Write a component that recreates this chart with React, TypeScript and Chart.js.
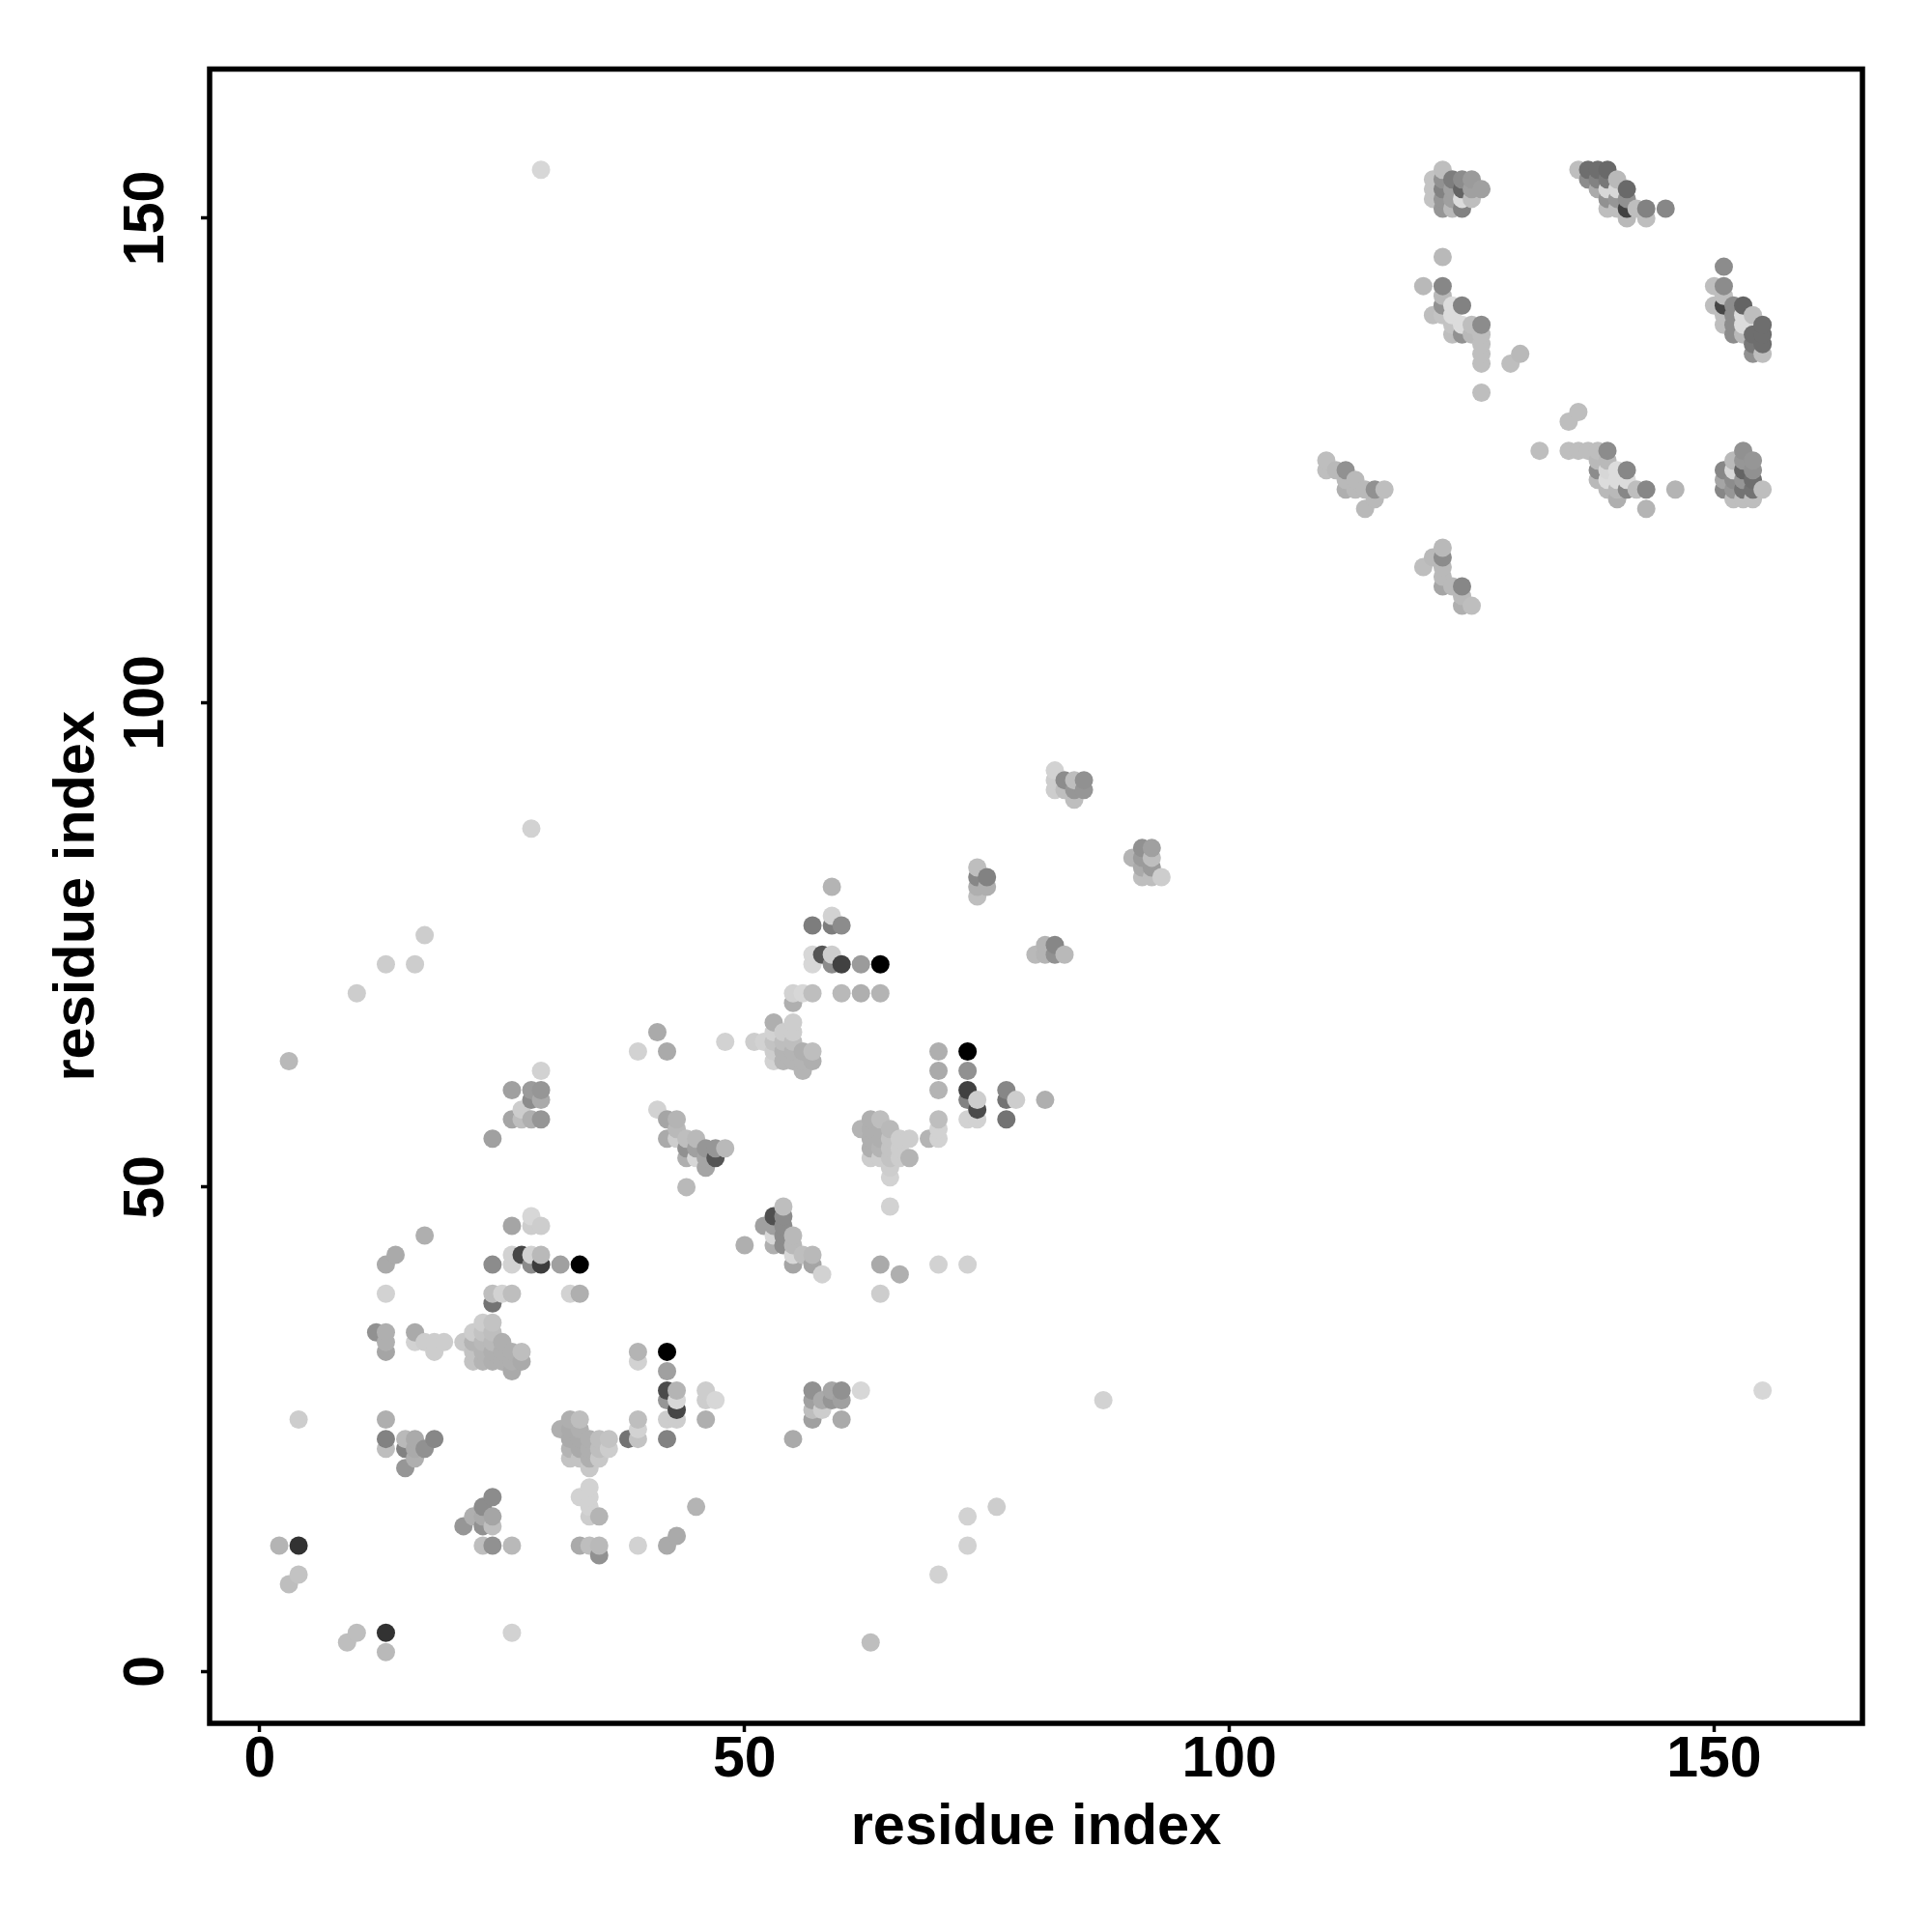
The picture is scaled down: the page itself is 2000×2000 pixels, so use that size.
import React, { useEffect, useRef } from "react";
import { Chart, registerables } from "chart.js";

Chart.register(...registerables);

type P = [number, number, number]; // residue i, residue j, grey level

const clusterA: P[] = [[121,154,195],[121,153,195],[121,152,195],[122,155,190],[122,154,145],[122,153,130],[122,152,150],[122,151,150],[123,154,125],[123,153,160],[123,152,160],[123,151,185],[124,154,140],[124,153,100],[124,152,220],[124,151,130],[125,154,155],[125,153,160],[125,152,190],[126,153,160]];
const clusterB: P[] = [[136,155,190],[137,155,110],[138,155,110],[139,155,105],[137,154,140],[138,154,130],[139,154,120],[138,153,170],[139,153,215],[140,153,215],[140,154,185],[141,153,105],[139,152,145],[140,152,150],[141,152,145],[139,151,190],[140,151,190],[141,151,65],[141,150,185],[142,151,190],[143,151,130],[143,150,190],[145,151,135]];
const clusterC: P[] = [[122,146,185],[120,143,185],[122,143,135],[122,142,185],[122,141,145],[121,140,190],[122,140,195],[123,141,220],[123,140,220],[124,141,130],[124,139,220],[123,139,195],[123,138,190],[124,138,145],[125,139,190],[125,138,185],[126,139,140],[126,138,190],[126,137,190],[126,136,190],[126,135,190],[126,132,190],[129,135,190],[130,136,185]];
const clusterD: P[] = [[151,145,140],[150,143,190],[151,143,140],[150,141,190],[151,142,190],[151,141,70],[151,140,190],[151,139,190],[152,141,140],[152,140,140],[152,139,140],[152,138,140],[153,141,100],[153,140,220],[153,139,220],[153,138,185],[154,140,190],[154,138,110],[154,137,120],[154,136,145],[155,139,110],[155,138,110],[155,137,110],[155,136,190]];
const clusterE: P[] = [[110,125,190],[110,124,190],[111,124,185],[112,124,145],[112,123,185],[112,122,175],[113,123,185],[113,122,185],[114,122,185],[115,122,145],[116,122,190],[115,121,185],[114,120,185]];
const clusterF: P[] = [[120,114,190],[121,115,185],[122,116,185],[122,115,140],[122,114,185],[122,113,185],[122,112,165],[123,112,185],[124,112,135],[124,111,185],[124,110,175],[125,110,190]];
const clusterG: P[] = [[132,126,190],[135,129,190],[136,130,190],[135,126,190],[136,126,190],[137,126,190],[138,126,190],[139,126,140],[139,125,185],[138,125,185],[138,124,140],[138,123,185],[139,124,215],[139,123,220],[140,124,220],[141,124,135],[140,123,220],[141,123,220],[139,122,185],[140,122,185],[140,121,175],[141,122,135],[142,122,190],[143,122,135],[143,120,180],[146,122,180]];
const clusterH: P[] = [[151,124,135],[151,123,165],[151,122,135],[152,125,185],[152,124,215],[152,123,140],[152,122,150],[152,121,190],[153,126,145],[153,125,150],[153,124,100],[153,123,150],[153,122,115],[153,121,190],[154,125,150],[154,124,145],[154,123,110],[154,122,115],[154,121,190],[155,122,190]];
const clusterI: P[] = [[59,81,180],[57,77,125],[59,77,125],[60,77,140],[59,78,210],[57,74,215],[57,73,215],[58,74,85],[59,74,205],[59,73,140],[60,73,65],[62,73,155],[64,73,0],[55,70,210],[56,70,215],[57,70,190],[60,70,185],[62,70,175],[64,70,180],[55,69,175]];
const clusterJ: P[] = [[53,67,175],[55,67,205],[53,66,210],[54,66,205],[55,66,205],[48,65,210],[51,65,205],[52,65,210],[53,65,195],[54,65,190],[55,65,190],[53,64,205],[54,64,180],[55,64,180],[56,64,175],[57,64,190],[53,63,210],[54,63,180],[55,63,180],[56,63,180],[57,63,175],[56,62,180]];
const clusterK: P[] = [[70,64,175],[70,62,170],[70,60,180],[70,57,190],[70,56,210],[70,55,210],[69,55,180],[73,64,0],[73,62,145],[73,60,65],[73,59,130],[74,59,205],[74,58,75],[73,57,210],[74,57,210],[77,60,135],[77,59,115],[78,59,205],[77,57,115],[81,59,175]];
const clusterL: P[] = [[62,56,180],[63,57,175],[64,57,190],[63,56,175],[64,56,175],[63,55,175],[64,55,175],[63,54,175],[64,54,180],[63,53,205],[64,53,205],[65,56,185],[65,55,195],[65,54,195],[65,53,195],[65,52,205],[65,51,210],[66,55,205],[67,55,205],[66,54,205],[66,53,205],[67,53,180],[65,48,210],[64,42,170],[66,41,175],[64,39,205],[70,42,210],[73,42,210]];
const clusterM: P[] = [[41,66,170],[39,64,210],[42,64,170],[41,58,210],[42,57,165],[43,57,180],[42,55,170],[43,56,185],[43,55,205],[44,55,190],[45,55,185],[44,54,145],[45,54,160],[46,54,150],[47,54,150],[48,54,185],[46,53,165],[47,53,85],[44,53,175],[45,53,215],[46,52,165],[44,50,185]];
const clusterN: P[] = [[54,48,190],[53,47,80],[54,47,140],[52,46,160],[53,46,160],[54,46,140],[53,45,215],[54,45,140],[50,44,175],[53,44,175],[54,44,140],[55,45,185],[55,44,185],[56,43,190],[57,43,185],[55,43,215],[55,42,165],[57,42,165],[58,41,210]];
const clusterO: P[] = [[17,45,175],[13,42,170],[14,43,170],[13,39,210],[12,35,145],[13,35,175],[13,34,175],[13,33,165],[16,35,170],[16,34,210],[17,34,205],[18,34,205],[18,33,205],[19,34,205]];
const clusterP: P[] = [[24,42,140],[26,43,210],[26,42,210],[27,43,70],[28,43,210],[28,42,140],[29,43,185],[29,42,60],[31,42,160],[33,42,0],[26,46,165],[28,47,215],[28,46,205],[29,46,205],[24,39,190],[25,39,210],[26,39,190],[32,39,210],[33,39,175],[24,38,115]];
const clusterQ: P[] = [[23,36,205],[24,36,195],[22,35,205],[23,35,195],[24,35,190],[21,34,200],[22,34,180],[23,34,185],[24,34,185],[25,34,175],[22,33,195],[23,33,180],[24,33,175],[25,33,175],[26,33,175],[27,33,190],[22,32,195],[23,32,180],[24,32,175],[25,32,175],[26,32,175],[27,32,170],[26,31,170]];
const clusterR: P[] = [[13,26,175],[13,24,130],[13,23,190],[15,24,185],[15,23,130],[16,24,170],[16,23,170],[16,22,175],[15,21,150],[17,23,145],[18,24,135]];
const clusterS: P[] = [[31,25,175],[32,26,175],[33,26,190],[32,25,170],[33,25,175],[32,24,170],[33,24,170],[34,24,175],[35,24,190],[36,24,195],[32,23,180],[33,23,170],[34,23,175],[35,23,190],[36,23,205],[32,22,195],[33,22,195],[34,22,175],[35,22,200],[34,21,200],[38,24,115],[39,26,190],[39,25,210],[39,24,195]];
const clusterT: P[] = [[34,19,210],[33,18,210],[34,18,210],[34,17,210],[34,16,205],[35,16,180],[33,13,170],[34,13,190],[35,13,185],[35,12,145],[39,13,210],[42,13,170],[43,14,170],[45,17,180]];
const clusterU: P[] = [[24,18,140],[23,17,140],[22,16,175],[21,15,150],[23,16,170],[24,16,165],[23,15,145],[24,15,190],[23,13,190],[24,13,145],[26,13,185]];
const clusterV: P[] = [[39,33,180],[39,32,210],[42,33,0],[42,31,160],[42,29,75],[42,28,150],[43,29,180],[43,28,215],[43,27,70],[42,26,205],[43,26,205],[46,29,205],[46,28,205],[47,28,215],[46,26,175],[42,24,130]];
const clusterW: P[] = [[57,29,145],[57,28,160],[57,27,190],[57,26,160],[58,28,170],[58,27,205],[59,29,165],[59,28,150],[60,29,145],[60,28,160],[60,26,170],[62,29,215],[55,24,170]];
const clusterX: P[] = [[29,62,210],[26,60,160],[28,60,155],[29,60,150],[28,59,140],[29,59,170],[27,58,205],[26,57,165],[27,57,190],[28,57,175],[29,57,150],[24,55,160]];
const clusterY: P[] = [[74,83,190],[74,82,135],[75,82,130],[75,81,175],[74,81,175],[74,80,190],[80,74,185],[81,75,180],[81,74,180],[82,75,135],[82,74,145],[83,74,185]];
const clusterZ: P[] = [[82,93,210],[82,92,205],[82,91,205],[83,92,140],[83,91,190],[84,92,190],[84,91,150],[84,90,190],[85,92,145],[85,91,150],[90,84,180],[91,85,145],[91,84,155],[91,83,170],[91,82,190],[92,85,160],[92,84,190],[92,83,155],[92,82,190],[93,82,205]];
const isolated: P[] = [[29,155,215],[28,87,210],[3,63,185],[10,70,205],[13,73,205],[16,73,205],[17,76,205],[4,26,205],[2,13,180],[4,13,50],[3,9,190],[4,10,195],[9,3,190],[10,4,190],[13,4,50],[13,2,185],[26,4,210],[63,3,190],[70,10,210],[73,13,210],[73,16,210],[76,17,205],[87,28,210],[155,29,215]];

const axisTicks = [0, 50, 100, 150];
const axisTitle = "residue index";

const points: P[] = [
  clusterA, clusterB, clusterC, clusterD, clusterE, clusterF, clusterG, clusterH, clusterI,
  clusterJ, clusterK, clusterL, clusterM, clusterN, clusterO, clusterP, clusterQ, clusterR,
  clusterS, clusterT, clusterU, clusterV, clusterW, clusterX, clusterY, clusterZ, isolated,
].flat().sort((a, b) => a[0] - b[0] || a[1] - b[1]);

const FONT = "'Liberation Sans', Arial, sans-serif";

const frame = {
  id: "frame",
  afterDatasetsDraw(chart: any) {
    const { ctx, chartArea: a } = chart;
    ctx.save();
    ctx.strokeStyle = "#000";
    ctx.lineWidth = 5.5;
    ctx.lineJoin = "miter";
    ctx.strokeRect(a.left, a.top, a.right - a.left, a.bottom - a.top);
    ctx.restore();
  },
};

export default function App() {
  const ref = useRef<HTMLCanvasElement>(null);
  useEffect(() => {
    document.body.style.margin = "0";
    const axisBase = (extra: any) => ({
      type: "linear",
      afterBuildTicks: (s: any) => {
        s.ticks = axisTicks.map((v) => ({ value: v }));
      },
      grid: { display: true, drawOnChartArea: false, drawTicks: true, tickLength: 9, tickWidth: 3.5, tickColor: "#000" },
      border: { display: false },
      ...extra,
    });
    const chart = new Chart(ref.current!, {
      type: "scatter",
      data: {
        datasets: [
          {
            data: points.map((p) => ({ x: p[0], y: p[1] })),
            pointBackgroundColor: points.map((p) => `rgb(${p[2]},${p[2]},${p[2]})`),
            pointBorderWidth: 0,
            pointRadius: 9.5,
          },
        ],
      },
      options: {
        animation: false,
        responsive: false,
        layout: { padding: { left: 0, top: 71.5, right: 72, bottom: 0 } },
        plugins: { legend: { display: false }, tooltip: { enabled: false } },
        scales: {
          x: axisBase({
            min: -5.18,
            max: 165.3,
            afterFit: (s: any) => { s.height = 216; },
            ticks: { color: "#000", font: { family: FONT, size: 59, weight: "bold" }, padding: -6, maxRotation: 0, minRotation: 0 },
            title: { display: true, text: axisTitle, color: "#000", font: { family: FONT, size: 59.5, weight: "bold" }, padding: { top: 0, bottom: 72 } },
          }),
          y: axisBase({
            min: -5.35,
            max: 165.4,
            afterFit: (s: any) => { s.width = 217; },
            ticks: { color: "#000", font: { family: FONT, size: 59, weight: "bold" }, padding: 6, minRotation: 90, maxRotation: 90, crossAlign: "center" },
            title: { display: true, text: axisTitle, color: "#000", font: { family: FONT, size: 59.5, weight: "bold" }, padding: { top: 45, bottom: 0 } },
          }),
        },
      } as any,
      plugins: [frame],
    } as any);
    return () => chart.destroy();
  }, []);
  return (
    <canvas
      ref={ref}
      width={2000}
      height={2000}
      style={{ display: "block", position: "absolute", left: 0, top: 0, width: 2000, height: 2000, background: "#fff" }}
    />
  );
}
